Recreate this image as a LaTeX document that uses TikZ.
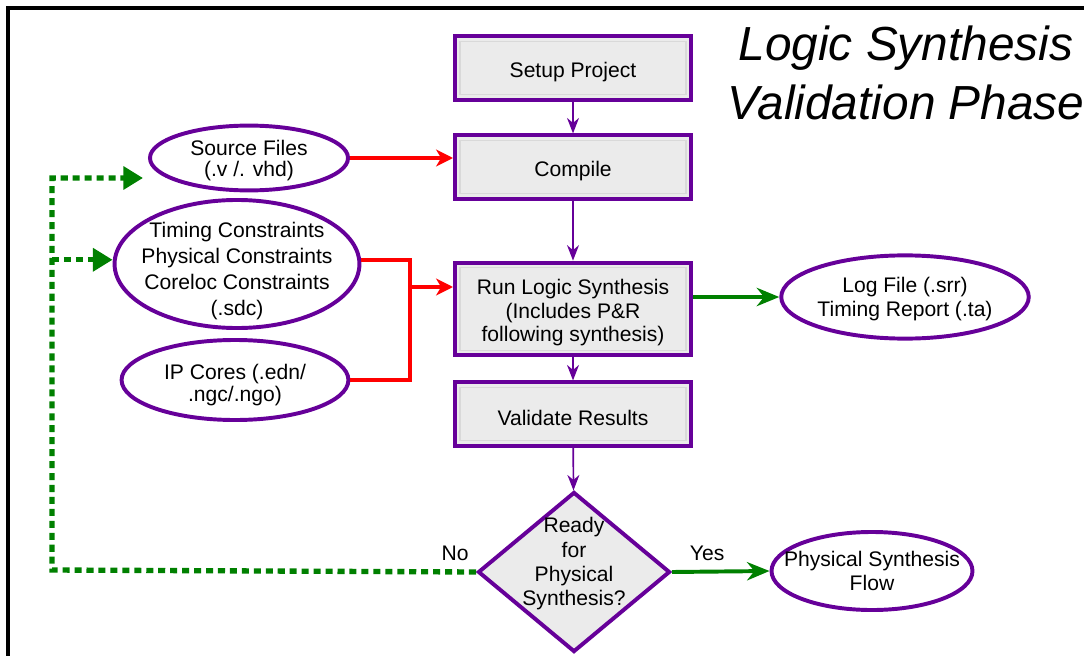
\documentclass[tikz,border=0pt]{standalone}
\usepackage{fontspec}
\setmainfont{Liberation Sans}
\usetikzlibrary{arrows.meta,shapes.geometric,positioning}

\definecolor{flowpurple}{RGB}{102,0,153}
\definecolor{flowgreen}{RGB}{0,128,0}
\definecolor{flowred}{RGB}{255,0,0}
\definecolor{boxgrey}{RGB}{235,235,235}

\begin{document}
\begin{tikzpicture}[x=0.025cm, y=-0.025cm, >=Stealth,
    every node/.style={font=\fontsize{15}{17.5}\selectfont},
    stepbox/.style={rectangle, draw=flowpurple, line width=2.8pt, fill=boxgrey,
      minimum width=5.9cm, minimum height=1.58cm, inner sep=0pt, align=center,
      text height=17pt,
      path picture={\draw[gray!30, line width=1pt]
        ([shift={(3.5pt,-3.5pt)}]path picture bounding box.north west) rectangle
        ([shift={(-3.5pt,3.5pt)}]path picture bounding box.south east);}},
    filebox/.style={ellipse, draw=flowpurple, line width=2.8pt, fill=white,
      inner sep=0pt, align=center},
    askbox/.style={diamond, draw=flowpurple, line width=2.8pt, fill=boxgrey,
      inner sep=-30pt, align=center, minimum width=4.8cm, minimum height=4.0cm},
    seqline/.style={draw=flowpurple, line width=1.2pt,
      -{Stealth[length=11pt, width=8.5pt]}},
    feedline/.style={draw=flowred, line width=2.8pt},
    resultline/.style={draw=flowgreen, line width=2.8pt,
      -{Stealth[length=16pt, width=13pt]}},
    backline/.style={draw=flowgreen, line width=3.8pt, dash pattern=on 5pt off 3.5pt,
      -{Triangle[length=14pt, width=16pt]}}]

    % Page and frame
    \useasboundingbox (0,0) rectangle (1084,656);
    \draw[line width=2.2pt] (8,656) -- (8,8) -- (1084,8);

    % Title
    \node[font=\fontsize{34}{41.5}\selectfont\itshape, align=center] (title) at (906,73)
      {Logic Synthesis\\Validation Phase};

    % Main flow
    \node[stepbox] (setup) at (573,68) {Setup Project};
    \node[stepbox] (cmp) at (573,167) {Compile};
    \node[stepbox, minimum height=2.32cm, text height=50pt, font=\fontsize{15}{17}\selectfont]
      (run) at (573,309) {Run Logic Synthesis\\(Includes P\&R\\following synthesis)};
    \node[stepbox] (val) at (573,414) {Validate Results};
    \node[askbox, text depth=15pt, font=\fontsize{15}{17.2}\selectfont] (ready) at (574,572)
      {Ready\\for\\Physical\\Synthesis?};

    % Input files
    \node[filebox, minimum width=4.95cm, minimum height=1.5cm, text height=29.5pt,
      font=\fontsize{15}{15}\selectfont] (src) at (249,158) {Source Files\\(.v /. vhd)};
    \node[filebox, minimum width=6.12cm, minimum height=3.2cm, text height=77pt,
      inner xsep=-8pt, inner ysep=-16pt, font=\fontsize{15}{18.7}\selectfont] (tc) at (237,264)
      {Timing Constraints\\Physical Constraints\\Coreloc Constraints\\(.sdc)};
    \node[filebox, minimum width=5.67cm, minimum height=2.0cm, text height=34pt,
      font=\fontsize{15}{16}\selectfont] (ip) at (235,380) {IP Cores (.edn/\\.ngc/.ngo)};

    % Outputs
    \node[filebox, minimum width=6.12cm, minimum height=2.08cm, text height=30.8pt,
      font=\fontsize{15}{17}\selectfont] (log) at (905,297)
      {Log File (.srr)\\Timing Report (.ta)};
    \node[filebox, minimum width=5.02cm, minimum height=1.95cm, inner xsep=-12pt,
      font=\fontsize{15}{16.5}\selectfont] (phys) at (872,571) {Physical Synthesis\\Flow};

    % Sequence arrows
    \draw[seqline] (setup) -- (cmp);
    \draw[seqline] (cmp) -- (run);
    \draw[seqline] (run) -- (val);
    \draw[seqline] (val) -- (ready);

    % Inputs into the flow
    \coordinate (join) at (410,287);
    \draw[feedline, -{Stealth[length=12pt, width=12pt, inset=3.5pt]}]
      (src.east) -- (src.east -| cmp.west);
    \draw[feedline] ([yshift=3pt]tc.east) -| (join) |- (ip.east);
    \draw[feedline, -{Stealth[length=12pt, width=12pt, inset=3.5pt]}]
      (join) -- (join -| run.west);

    % Results
    \draw[resultline] (run.east |- log.west) -- (log.west);
    \draw[resultline] (ready.east) -- node[pos=0.36, above=3pt] (yes) {Yes} (phys.west);

    % Loop back when not ready
    \coordinate (loop) at (52,570);
    \coordinate (srcin) at (143,178);
    \draw[backline] (ready.west) node[above left=3pt and 0pt] (no) {No}
      -- (loop) |- (srcin);
    \draw[backline] ([yshift=3pt]loop |- tc.west) -- ([yshift=3pt]tc.west);
  \end{tikzpicture}
\end{document}
